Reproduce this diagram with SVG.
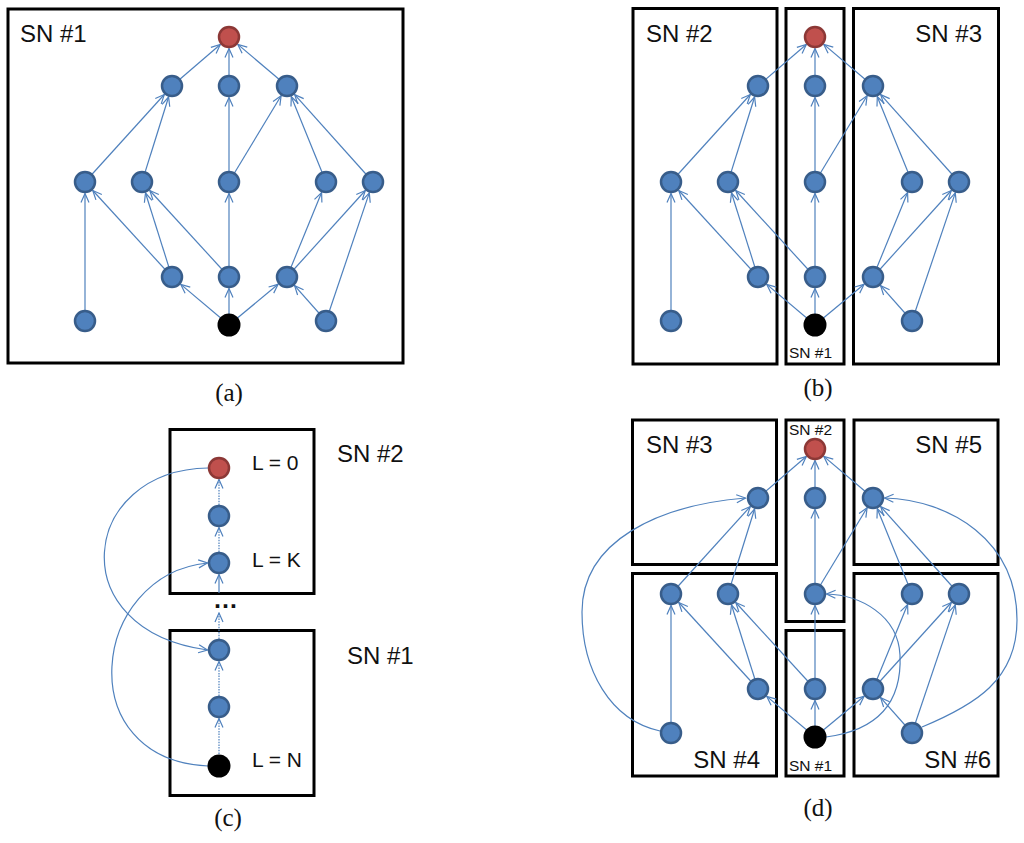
<svg xmlns="http://www.w3.org/2000/svg" xmlns:xlink="http://www.w3.org/1999/xlink" width="1024" height="843" viewBox="0 0 1024 843">
<defs>
<style>
.box{fill:none;stroke:#000;stroke-width:3}
.e{fill:none;stroke:#4f81bd;stroke-width:1.2;marker-end:url(#ah)}
.d{fill:none;stroke:#4f81bd;stroke-width:1.2;stroke-dasharray:1.5 1.2;marker-end:url(#ah)}
.n{fill:#4f81bd;stroke:#385d8a;stroke-width:2.5}
.r{fill:#c0504d;stroke:#8c3836;stroke-width:2.5}
.k{fill:#000}
.big{font-family:"Liberation Sans",Arial,sans-serif;font-size:24px;fill:#111}
.sm{font-family:"Liberation Sans",Arial,sans-serif;font-size:15.5px;fill:#111}
.lv{font-family:"Liberation Sans",Arial,sans-serif;font-size:21px;fill:#111}
.cap{font-family:"Liberation Serif","Times New Roman",serif;font-size:25px;fill:#111;text-anchor:middle}
</style>
<marker id="ah" markerUnits="userSpaceOnUse" markerWidth="12" markerHeight="12" viewBox="0 0 12 12" refX="11" refY="6" orient="auto">
<path d="M2,2 L11,6 L2,10" fill="none" stroke="#4f81bd" stroke-width="1.2"/>
</marker>
</defs>
<rect width="1024" height="843" fill="#fff"/>

<!-- Boxes -->
<g id="boxes">
<rect class="box" x="8" y="9" width="395" height="354"/>
<rect class="box" x="633" y="8.5" width="144" height="355.5"/>
<rect class="box" x="786" y="8.5" width="58" height="355.5"/>
<rect class="box" x="853.5" y="8.5" width="145" height="355.5"/>
<rect class="box" x="170" y="429.5" width="144" height="164"/>
<rect class="box" x="170" y="630.5" width="144" height="165"/>
<rect class="box" x="632.5" y="420" width="144" height="144.5"/>
<rect class="box" x="632.5" y="573.5" width="144" height="202.5"/>
<rect class="box" x="786" y="420" width="58" height="201.5"/>
<rect class="box" x="786" y="630.5" width="58" height="145.5"/>
<rect class="box" x="854" y="420" width="144" height="144.5"/>
<rect class="box" x="854" y="573.5" width="144" height="202.5"/>
</g>

<!-- Panel (a) -->
<g id="a-connectors">
<line class="e" x1="172" y1="86" x2="220.3" y2="44.5"/>
<line class="e" x1="229" y1="86" x2="229" y2="48.5"/>
<line class="e" x1="287" y1="86" x2="237.8" y2="44.4"/>
<line class="e" x1="85" y1="182" x2="164.3" y2="94.5"/>
<line class="e" x1="142" y1="182" x2="168.6" y2="97"/>
<line class="e" x1="229" y1="182" x2="229" y2="97.5"/>
<line class="e" x1="229" y1="182" x2="281.1" y2="95.8"/>
<line class="e" x1="326" y1="182" x2="291.3" y2="96.7"/>
<line class="e" x1="373" y1="182" x2="294.7" y2="94.6"/>
<line class="e" x1="172" y1="277" x2="92.8" y2="190.5"/>
<line class="e" x1="172" y1="277" x2="145.5" y2="193"/>
<line class="e" x1="229" y1="277" x2="149.8" y2="190.5"/>
<line class="e" x1="229" y1="277" x2="229" y2="193.5"/>
<line class="e" x1="287" y1="277" x2="321.6" y2="192.6"/>
<line class="e" x1="287" y1="277" x2="365.3" y2="190.5"/>
<line class="e" x1="85" y1="321" x2="85" y2="193.5"/>
<line class="e" x1="229" y1="325" x2="180.8" y2="284.4"/>
<line class="e" x1="229" y1="325" x2="229" y2="288.5"/>
<line class="e" x1="229" y1="325" x2="278.1" y2="284.3"/>
<line class="e" x1="326" y1="321" x2="294.6" y2="285.6"/>
<line class="e" x1="326" y1="321" x2="369.3" y2="192.9"/>
</g>
<g id="a-nodes">
<g id="a-R"><circle class="r" cx="229" cy="37" r="10"/></g>
<g id="a-A1"><circle class="n" cx="172" cy="86" r="10"/></g>
<g id="a-B1"><circle class="n" cx="229" cy="86" r="10"/></g>
<g id="a-C1"><circle class="n" cx="287" cy="86" r="10"/></g>
<g id="a-A2"><circle class="n" cx="85" cy="182" r="10"/></g>
<g id="a-B2"><circle class="n" cx="142" cy="182" r="10"/></g>
<g id="a-C2"><circle class="n" cx="229" cy="182" r="10"/></g>
<g id="a-D2"><circle class="n" cx="326" cy="182" r="10"/></g>
<g id="a-E2"><circle class="n" cx="373" cy="182" r="10"/></g>
<g id="a-A3"><circle class="n" cx="172" cy="277" r="10"/></g>
<g id="a-B3"><circle class="n" cx="229" cy="277" r="10"/></g>
<g id="a-C3"><circle class="n" cx="287" cy="277" r="10"/></g>
<g id="a-A4"><circle class="n" cx="85" cy="321" r="10"/></g>
<g id="a-K"><circle class="k" cx="229" cy="325" r="11.5"/></g>
<g id="a-C4"><circle class="n" cx="326" cy="321" r="10"/></g>
</g>

<!-- Panel (b) -->
<g id="b-connectors" transform="translate(586,0)">
<line class="e" x1="172" y1="86" x2="220.3" y2="44.5"/>
<line class="e" x1="229" y1="86" x2="229" y2="48.5"/>
<line class="e" x1="287" y1="86" x2="237.8" y2="44.4"/>
<line class="e" x1="85" y1="182" x2="164.3" y2="94.5"/>
<line class="e" x1="142" y1="182" x2="168.6" y2="97"/>
<line class="e" x1="229" y1="182" x2="229" y2="97.5"/>
<line class="e" x1="229" y1="182" x2="281.1" y2="95.8"/>
<line class="e" x1="326" y1="182" x2="291.3" y2="96.7"/>
<line class="e" x1="373" y1="182" x2="294.7" y2="94.6"/>
<line class="e" x1="172" y1="277" x2="92.8" y2="190.5"/>
<line class="e" x1="172" y1="277" x2="145.5" y2="193"/>
<line class="e" x1="229" y1="277" x2="149.8" y2="190.5"/>
<line class="e" x1="229" y1="277" x2="229" y2="193.5"/>
<line class="e" x1="287" y1="277" x2="321.6" y2="192.6"/>
<line class="e" x1="287" y1="277" x2="365.3" y2="190.5"/>
<line class="e" x1="85" y1="321" x2="85" y2="193.5"/>
<line class="e" x1="229" y1="325" x2="180.8" y2="284.4"/>
<line class="e" x1="229" y1="325" x2="229" y2="288.5"/>
<line class="e" x1="229" y1="325" x2="278.1" y2="284.3"/>
<line class="e" x1="326" y1="321" x2="294.6" y2="285.6"/>
<line class="e" x1="326" y1="321" x2="369.3" y2="192.9"/>
</g>
<g id="b-nodes" transform="translate(586,0)">
<g id="b-R"><circle class="r" cx="229" cy="37" r="10"/></g>
<g id="b-A1"><circle class="n" cx="172" cy="86" r="10"/></g>
<g id="b-B1"><circle class="n" cx="229" cy="86" r="10"/></g>
<g id="b-C1"><circle class="n" cx="287" cy="86" r="10"/></g>
<g id="b-A2"><circle class="n" cx="85" cy="182" r="10"/></g>
<g id="b-B2"><circle class="n" cx="142" cy="182" r="10"/></g>
<g id="b-C2"><circle class="n" cx="229" cy="182" r="10"/></g>
<g id="b-D2"><circle class="n" cx="326" cy="182" r="10"/></g>
<g id="b-E2"><circle class="n" cx="373" cy="182" r="10"/></g>
<g id="b-A3"><circle class="n" cx="172" cy="277" r="10"/></g>
<g id="b-B3"><circle class="n" cx="229" cy="277" r="10"/></g>
<g id="b-C3"><circle class="n" cx="287" cy="277" r="10"/></g>
<g id="b-A4"><circle class="n" cx="85" cy="321" r="10"/></g>
<g id="b-K"><circle class="k" cx="229" cy="325" r="11.5"/></g>
<g id="b-C4"><circle class="n" cx="326" cy="321" r="10"/></g>
</g>

<!-- Panel (c) -->
<g id="c-connectors">
<line class="d" x1="219" y1="505" x2="219" y2="479.5"/>
<line class="d" x1="219" y1="552" x2="219" y2="527.5"/>
<line class="e" x1="219" y1="593" x2="219" y2="574.5"/>
<line class="d" x1="219" y1="639" x2="219" y2="613"/>
<line class="d" x1="219" y1="696" x2="219" y2="661.5"/>
<line class="d" x1="219" y1="754" x2="219" y2="718.5"/>
<path class="e" d="M208,468 C80,470 60,630 207.5,650"/>
<path class="e" d="M208,766 C70,760 90,575 207.5,563"/>
</g>
<g id="c-nodes">
<g id="c-L0"><circle class="r" cx="219" cy="468" r="10"/></g>
<g id="c-L1"><circle class="n" cx="219" cy="516" r="10"/></g>
<g id="c-LK"><circle class="n" cx="219" cy="563" r="10"/></g>
<g id="c-M1"><circle class="n" cx="219" cy="650" r="10"/></g>
<g id="c-M2"><circle class="n" cx="219" cy="707" r="10"/></g>
<g id="c-LN"><circle class="k" cx="219" cy="766" r="11.5"/></g>
</g>

<!-- Panel (d) -->
<g id="d-connectors">
<g transform="translate(586,412)">
<line class="e" x1="172" y1="86" x2="220.3" y2="44.5"/>
<line class="e" x1="229" y1="86" x2="229" y2="48.5"/>
<line class="e" x1="287" y1="86" x2="237.8" y2="44.4"/>
<line class="e" x1="85" y1="182" x2="164.3" y2="94.5"/>
<line class="e" x1="142" y1="182" x2="168.6" y2="97"/>
<line class="e" x1="229" y1="182" x2="229" y2="97.5"/>
<line class="e" x1="229" y1="182" x2="281.1" y2="95.8"/>
<line class="e" x1="326" y1="182" x2="291.3" y2="96.7"/>
<line class="e" x1="373" y1="182" x2="294.7" y2="94.6"/>
<line class="e" x1="172" y1="277" x2="92.8" y2="190.5"/>
<line class="e" x1="172" y1="277" x2="145.5" y2="193"/>
<line class="e" x1="229" y1="277" x2="149.8" y2="190.5"/>
<line class="e" x1="229" y1="277" x2="229" y2="193.5"/>
<line class="e" x1="287" y1="277" x2="321.6" y2="192.6"/>
<line class="e" x1="287" y1="277" x2="365.3" y2="190.5"/>
<line class="e" x1="85" y1="321" x2="85" y2="193.5"/>
<line class="e" x1="229" y1="325" x2="180.8" y2="284.4"/>
<line class="e" x1="229" y1="325" x2="229" y2="288.5"/>
<line class="e" x1="229" y1="325" x2="278.1" y2="284.3"/>
<line class="e" x1="326" y1="321" x2="294.6" y2="285.6"/>
<line class="e" x1="326" y1="321" x2="369.3" y2="192.9"/>
</g>
<path class="e" d="M660,731 C610,720 582,670 582,612 C582,540 660,505 745.5,498"/>
<path class="e" d="M922,727 C975,705 1017,680 1017,620 C1017,540 950,500 884.5,498"/>
<path class="e" d="M826,737 C880,730 902,700 900,655 C898,615 860,595 826.5,594"/>
</g>
<g id="d-nodes" transform="translate(586,412)">
<g id="d-R"><circle class="r" cx="229" cy="37" r="10"/></g>
<g id="d-A1"><circle class="n" cx="172" cy="86" r="10"/></g>
<g id="d-B1"><circle class="n" cx="229" cy="86" r="10"/></g>
<g id="d-C1"><circle class="n" cx="287" cy="86" r="10"/></g>
<g id="d-A2"><circle class="n" cx="85" cy="182" r="10"/></g>
<g id="d-B2"><circle class="n" cx="142" cy="182" r="10"/></g>
<g id="d-C2"><circle class="n" cx="229" cy="182" r="10"/></g>
<g id="d-D2"><circle class="n" cx="326" cy="182" r="10"/></g>
<g id="d-E2"><circle class="n" cx="373" cy="182" r="10"/></g>
<g id="d-A3"><circle class="n" cx="172" cy="277" r="10"/></g>
<g id="d-B3"><circle class="n" cx="229" cy="277" r="10"/></g>
<g id="d-C3"><circle class="n" cx="287" cy="277" r="10"/></g>
<g id="d-A4"><circle class="n" cx="85" cy="321" r="10"/></g>
<g id="d-K"><circle class="k" cx="229" cy="325" r="11.5"/></g>
<g id="d-C4"><circle class="n" cx="326" cy="321" r="10"/></g>
</g>

<!-- Labels -->
<g id="labels">
<text class="big" x="20" y="42">SN #1</text>
<text class="big" x="646" y="42">SN #2</text>
<text class="big" x="982" y="42" text-anchor="end">SN #3</text>
<text class="sm" x="789" y="358">SN #1</text>
<text class="big" x="337" y="462">SN #2</text>
<text class="big" x="347" y="664">SN #1</text>
<text class="lv" x="252" y="470">L = 0</text>
<text class="lv" x="252" y="567">L = K</text>
<text class="lv" x="252" y="767">L = N</text>
<text class="lv" x="213" y="608" style="font-size:25px;font-weight:bold">…</text>
<text class="big" x="646" y="453">SN #3</text>
<text class="big" x="982" y="453" text-anchor="end">SN #5</text>
<text class="big" x="760" y="768" text-anchor="end">SN #4</text>
<text class="big" x="991" y="768" text-anchor="end">SN #6</text>
<text class="sm" x="789" y="435">SN #2</text>
<text class="sm" x="789" y="771">SN #1</text>
<text class="cap" x="229" y="401">(a)</text>
<text class="cap" x="818" y="396">(b)</text>
<text class="cap" x="228" y="826">(c)</text>
<text class="cap" x="818" y="816">(d)</text>
</g>
</svg>
